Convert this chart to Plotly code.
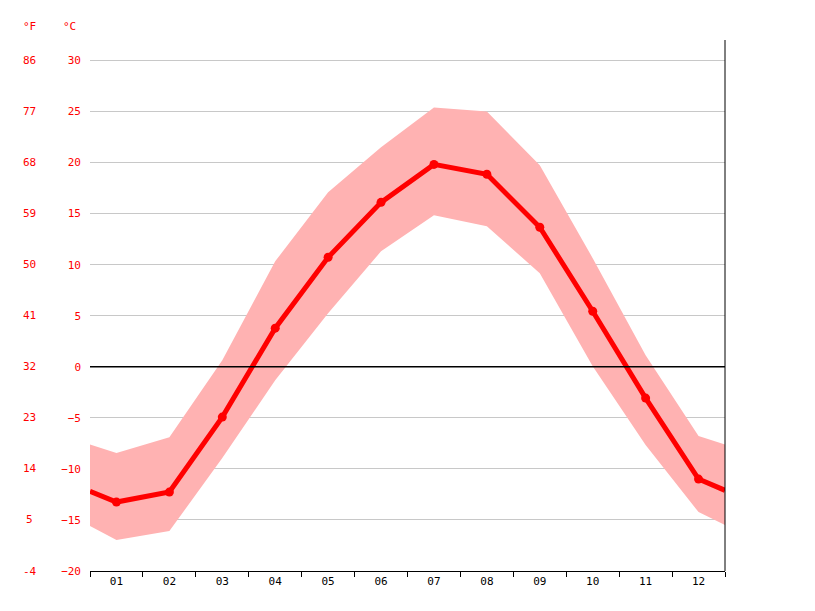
import plotly.graph_objects as go

months = ["01","02","03","04","05","06","07","08","09","10","11","12"]
x_pos = [0.5,1,2,3,4,5,6,7,8,9,10,11,12,12.5]
mean = [-12.2,-13.25,-12.27,-4.93,3.78,10.72,16.1,19.82,18.85,13.66,5.44,-3.07,-11.0,-12.1]
upper = [-7.6,-8.45,-6.89,0.65,10.33,17.08,21.49,25.4,25.0,19.73,10.63,1.14,-6.79,-7.6]
lower = [-15.6,-16.97,-16.09,-8.94,-1.31,5.24,11.31,14.83,13.76,9.16,0.06,-7.67,-14.23,-15.5]
c_ticks = [30,25,20,15,10,5,0,-5,-10,-15,-20]
f_ticks = ["86","77","68","59","50","41","32","23","14","5","-4"]

font = "DejaVu Sans Mono"
fig = go.Figure()
fig.add_trace(go.Scatter(x=x_pos, y=upper, mode="lines", line=dict(width=0), hoverinfo="skip"))
fig.add_trace(go.Scatter(x=x_pos, y=lower, mode="lines", line=dict(width=0), fill="tonexty",
                         fillcolor="rgba(255,178,178,1)", hoverinfo="skip"))
fig.add_trace(go.Scatter(x=x_pos, y=mean, mode="lines", line=dict(color="#ff0000", width=5)))
fig.add_trace(go.Scatter(x=x_pos[1:-1], y=mean[1:-1], mode="markers", marker=dict(color="#ff0000", size=9)))

fig.add_shape(type="line", xref="paper", x0=0, x1=1, yref="y", y0=0, y1=0, line=dict(color="black", width=1.5))
fig.add_shape(type="line", xref="paper", x0=1, x1=1, yref="paper", y0=0, y1=1, line=dict(color="black", width=1))

for v, f in zip(c_ticks, f_ticks):
    fig.add_annotation(x=-0.095, xref="paper", y=v, yref="y", text=f, showarrow=False, xanchor="center",
                       font=dict(family=font, size=11, color="#ff0000"))
fig.add_annotation(x=-0.095, xref="paper", y=1.01, yref="paper", text="°F", showarrow=False, xanchor="center", yanchor="bottom",
                   font=dict(family=font, size=11, color="#ff0000"))
fig.add_annotation(x=-0.033, xref="paper", y=1.01, yref="paper", text="°C", showarrow=False, xanchor="center", yanchor="bottom",
                   font=dict(family=font, size=11, color="#ff0000"))

fig.update_layout(
    width=815, height=611, showlegend=False, plot_bgcolor="white", paper_bgcolor="white",
    margin=dict(l=82, r=98, t=32, b=48),
    xaxis=dict(range=[0.5,12.5], tickvals=list(range(1,13)), ticktext=months, ticks="", showgrid=False,
               zeroline=False, showline=True, linecolor="black", linewidth=1,
               tickfont=dict(family=font, size=11, color="black"),
               minor=dict(tickmode="array", tickvals=[i+0.5 for i in range(13)], ticks="outside", ticklen=5, tickcolor="black", showgrid=False)),
    yaxis=dict(range=[-20,32], tickvals=c_ticks, ticks="", showgrid=True, gridcolor="#c8c8c8", zeroline=False,
               tickfont=dict(family=font, size=11, color="#ff0000"), ticklabelstandoff=8),
)
fig.write_html("out.html")
